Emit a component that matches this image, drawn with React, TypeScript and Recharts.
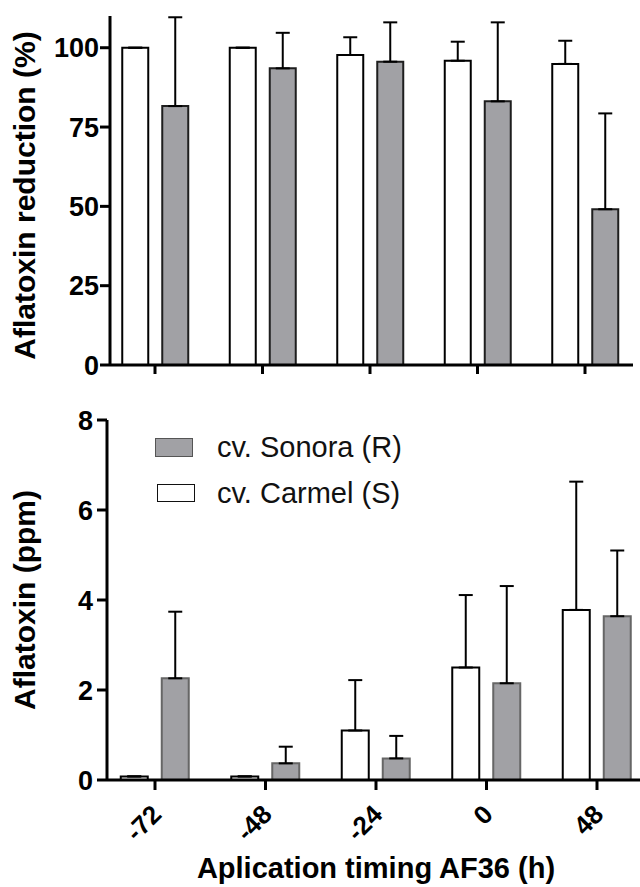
import React from 'react';
import { BarChart, Bar, XAxis, YAxis, ErrorBar, Legend, Label } from 'recharts';

const timings = ['-72', '-48', '-24', '0', '48'];

// top panel: aflatoxin reduction (%)
const reductionCarmel = [100, 100, 97.7, 95.9, 94.9];
const reductionCarmelSd = [0, 0, 5.6, 6.0, 7.3];
const reductionSonora = [81.6, 93.5, 95.6, 83.1, 49.1];
const reductionSonoraSd = [28.0, 11.2, 12.4, 24.9, 30.2];
const reductionTicks = [0, 25, 50, 75, 100];

// bottom panel: aflatoxin (ppm)
const ppmCarmel = [0.08, 0.08, 1.1, 2.5, 3.78];
const ppmCarmelSd = [0, 0, 1.12, 1.61, 2.85];
const ppmSonora = [2.26, 0.37, 0.48, 2.15, 3.64];
const ppmSonoraSd = [1.48, 0.37, 0.5, 2.16, 1.46];
const ppmTicks = [0, 2, 4, 6, 8];

const seriesNames: Record<string, string> = {
  carmel: 'cv. Carmel (S)',
  sonora: 'cv. Sonora (R)',
};
const legendOrder = ['sonora', 'carmel'];

const reductionData = timings.map((t, i) => ({
  timing: t,
  carmel: reductionCarmel[i],
  carmelErr: [0, reductionCarmelSd[i]],
  sonora: reductionSonora[i],
  sonoraErr: [0, reductionSonoraSd[i]],
}));

const ppmData = timings.map((t, i) => ({
  timing: t,
  carmel: ppmCarmel[i],
  carmelErr: [0, ppmCarmelSd[i]],
  sonora: ppmSonora[i],
  sonoraErr: [0, ppmSonoraSd[i]],
}));

const font = '"Liberation Sans", Arial, Helvetica, sans-serif';
const grayFill = '#a1a1a5';
const axisStroke = { stroke: '#000', strokeWidth: 3 };
const tickText = { fill: '#000', fontSize: 27, fontWeight: 700, fontFamily: font };

const yTitle = (text: string, shift: number) => (props: any) => {
  const vb = props.viewBox || { x: 0, y: 0, width: 0, height: 0 };
  const cy = vb.y + vb.height / 2 + shift;
  return (
    <text
      x={35}
      y={cy}
      transform={`rotate(-90, 35, ${cy})`}
      textAnchor="middle"
      fontFamily={font}
      fontSize={30}
      fontWeight={700}
      fill="#000"
    >
      {text}
    </text>
  );
};

const xTitle = (props: any) => {
  const vb = props.viewBox || { x: 0, y: 0, width: 0, height: 0 };
  return (
    <text
      x={vb.x + vb.width / 2}
      y={vb.y + vb.height - 9}
      textAnchor="middle"
      fontFamily={font}
      fontSize={29}
      fontWeight={700}
      fill="#000"
    >
      Aplication timing AF36 (h)
    </text>
  );
};

const SlantTick = (props: any) => {
  const { x, y, payload } = props;
  return (
    <g transform={`translate(${x + 8},${y + 26})`}>
      <text
        transform="rotate(-45)"
        textAnchor="end"
        fill="#000"
        fontSize={26}
        fontWeight={700}
        fontFamily={font}
      >
        {payload.value}
      </text>
    </g>
  );
};

const legendBox: Record<string, React.CSSProperties> = {
  sonora: { width: 38, height: 19, background: grayFill, border: '1.5px solid #555' },
  carmel: { width: 38, height: 18, background: '#fff', border: '1.5px solid #111', marginLeft: 2 },
};

const renderLegend = () => (
  <div style={{ fontFamily: font, fontSize: 29, color: '#111' }}>
    {legendOrder.map((key) => (
      <div key={key} style={{ display: 'flex', alignItems: 'center', height: 45.5 }}>
        <div style={{ width: 62 }}>
          <div style={{ boxSizing: 'border-box', ...legendBox[key] }} />
        </div>
        <span>{seriesNames[key]}</span>
      </div>
    ))}
  </div>
);

export default function App() {
  return (
    <div
      style={{
        position: 'absolute',
        left: 0,
        top: 0,
        width: 640,
        height: 887,
        overflow: 'hidden',
        background: '#fff',
      }}
    >
      <div style={{ position: 'absolute', left: 0, top: 0 }}>
        <BarChart
          width={640}
          height={390}
          data={reductionData}
          margin={{ top: 16, right: 7, bottom: 0, left: 0 }}
          barGap={14}
          barSize={26}
        >
          <XAxis
            dataKey="timing"
            height={25}
            padding={{ left: -8.75, right: -5.75 }}
            axisLine={axisStroke}
            tickLine={axisStroke}
            tickSize={9}
            tickFormatter={() => ''}
            interval={0}
          />
          <YAxis
            width={110}
            domain={[0, 110]}
            ticks={reductionTicks}
            interval={0}
            axisLine={axisStroke}
            tickLine={axisStroke}
            tickSize={10}
            tickMargin={1}
            tick={tickText}
          >
            <Label content={yTitle('Aflatoxin reduction (%)', 5)} />
          </YAxis>
          <Bar dataKey="carmel" name={seriesNames.carmel} fill="#fff" stroke="#000" strokeWidth={2} isAnimationActive={false}>
            <ErrorBar dataKey="carmelErr" direction="y" width={7} stroke="#000" strokeWidth={2} />
          </Bar>
          <Bar dataKey="sonora" name={seriesNames.sonora} fill={grayFill} stroke="#1e1e1e" strokeWidth={2} isAnimationActive={false}>
            <ErrorBar dataKey="sonoraErr" direction="y" width={7} stroke="#000" strokeWidth={2} />
          </Bar>
        </BarChart>
      </div>
      <div style={{ position: 'absolute', left: 0, top: 390 }}>
        <BarChart
          width={645}
          height={497}
          data={ppmData}
          margin={{ top: 30, right: 0, bottom: 0, left: 0 }}
          barGap={14}
          barSize={27}
        >
          <XAxis
            dataKey="timing"
            height={107}
            padding={{ left: -7.25, right: -7.25 }}
            axisLine={axisStroke}
            tickLine={axisStroke}
            tickSize={10}
            tickMargin={0}
            tick={SlantTick}
            interval={0}
          >
            <Label content={xTitle} />
          </XAxis>
          <YAxis
            width={107}
            domain={[0, 8]}
            ticks={ppmTicks}
            interval={0}
            axisLine={axisStroke}
            tickLine={axisStroke}
            tickSize={10}
            tickMargin={4}
            tick={tickText}
          >
            <Label content={yTitle('Aflatoxin (ppm)', 0)} />
          </YAxis>
          <Legend
            layout="horizontal"
            verticalAlign="middle"
            align="center"
            wrapperStyle={{ left: 155, top: 35, width: 320 }}
            content={renderLegend}
          />
          <Bar dataKey="carmel" name={seriesNames.carmel} fill="#fff" stroke="#000" strokeWidth={2} isAnimationActive={false}>
            <ErrorBar dataKey="carmelErr" direction="y" width={7} stroke="#000" strokeWidth={2} />
          </Bar>
          <Bar dataKey="sonora" name={seriesNames.sonora} fill={grayFill} stroke="#666" strokeWidth={2} isAnimationActive={false}>
            <ErrorBar dataKey="sonoraErr" direction="y" width={7} stroke="#000" strokeWidth={2} />
          </Bar>
        </BarChart>
      </div>
    </div>
  );
}
